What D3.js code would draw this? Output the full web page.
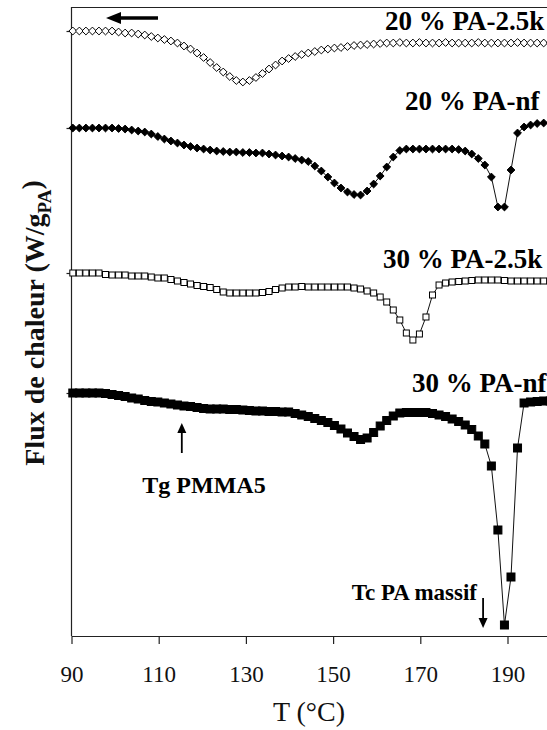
<!DOCTYPE html>
<html><head><meta charset="utf-8">
<script src="https://cdn.jsdelivr.net/npm/d3@7"></script>
<style>
html,body{margin:0;padding:0;background:#fff;}
svg{display:block;font-family:"Liberation Serif","Times New Roman",serif;}
</style></head><body>
<svg id="chart" width="547" height="730"></svg>
<script>
// Temperature (°C) of each recorded point
const temperatures = [
  90.3,91.8,93.3,94.8,96.3,97.8,99.3,100.8,102.3,103.8,
  105.3,106.8,108.3,109.8,111.3,112.8,114.3,115.8,117.3,118.8,
  120.3,121.8,123.3,124.8,126.3,127.8,129.3,130.8,132.3,133.8,
  135.3,136.8,138.3,139.8,141.3,142.8,144.3,145.8,147.3,148.8,
  150.3,151.8,153.3,154.8,156.3,157.8,159.3,160.8,162.3,163.8,
  165.3,166.8,168.3,169.8,171.3,172.8,174.3,175.8,177.3,178.8,
  180.3,181.8,183.3,184.8,186.3,187.8,189.3,190.8,192.3,193.8,
  195.3,196.8,198.3,199.8
];
// Heat flux (shifted curves, arbitrary offset units)
const pa25k20 = [
  12.10,12.10,12.10,12.10,12.10,12.10,12.10,12.08,12.06,12.06,
  12.04,12.02,11.99,11.96,11.93,11.90,11.86,11.80,11.74,11.66,
  11.57,11.47,11.37,11.28,11.19,11.11,11.08,11.11,11.17,11.25,
  11.34,11.42,11.50,11.55,11.59,11.63,11.66,11.69,11.72,11.74,
  11.76,11.77,11.79,11.81,11.82,11.83,11.84,11.85,11.86,11.86,
  11.87,11.86,11.86,11.87,11.86,11.86,11.86,11.87,11.86,11.86,
  11.86,11.86,11.87,11.86,11.86,11.86,11.86,11.86,11.87,11.86,
  11.86,11.86,11.86,11.86
];
const paNf20 = [
  10.16,10.16,10.16,10.16,10.16,10.16,10.16,10.15,10.14,10.12,
  10.10,10.08,10.04,9.99,9.94,9.90,9.86,9.82,9.79,9.76,
  9.74,9.72,9.70,9.69,9.68,9.68,9.67,9.67,9.66,9.66,
  9.64,9.62,9.60,9.58,9.55,9.52,9.49,9.40,9.30,9.18,
  9.06,8.96,8.88,8.83,8.82,8.90,9.04,9.20,9.38,9.58,
  9.71,9.74,9.74,9.74,9.74,9.74,9.74,9.74,9.74,9.73,
  9.70,9.64,9.55,9.42,9.18,8.58,8.58,9.32,10.06,10.18,
  10.22,10.25,10.26,10.27
];
const pa25k30 = [
  7.26,7.26,7.26,7.26,7.26,7.23,7.22,7.22,7.22,7.20,
  7.20,7.20,7.18,7.16,7.16,7.13,7.10,7.07,7.04,7.01,
  6.99,6.97,6.93,6.88,6.86,6.86,6.86,6.86,6.86,6.87,
  6.89,6.93,6.96,6.98,6.98,6.99,6.98,6.98,6.98,6.98,
  6.98,6.98,6.98,6.96,6.94,6.90,6.86,6.78,6.68,6.52,
  6.32,6.06,5.92,6.04,6.38,6.82,7.02,7.06,7.08,7.09,
  7.10,7.11,7.12,7.12,7.12,7.12,7.11,7.10,7.10,7.10,
  7.10,7.10,7.10,7.10
];
const paNf30 = [
  4.86,4.86,4.86,4.86,4.86,4.85,4.83,4.81,4.79,4.76,
  4.74,4.71,4.69,4.68,4.66,4.64,4.62,4.60,4.59,4.57,
  4.55,4.54,4.54,4.54,4.53,4.53,4.52,4.51,4.50,4.50,
  4.49,4.49,4.48,4.48,4.45,4.42,4.39,4.35,4.31,4.27,
  4.21,4.14,4.06,3.99,3.93,3.96,4.07,4.20,4.31,4.40,
  4.46,4.47,4.47,4.47,4.47,4.45,4.42,4.39,4.34,4.29,
  4.22,4.13,4.00,3.84,3.40,2.12,0.22,1.18,3.76,4.66,
  4.68,4.69,4.70,4.70
];
const seriesLabels = ["20 % PA-2.5k","20 % PA-nf","30 % PA-2.5k","30 % PA-nf"];
const xTickValues = [90,110,130,150,170,190];
const yTickValues = [4.86,7.26,10.16,12.10];
const xTitle = "T (°C)";
const annotations = [
  {text:"Tg PMMA5", t:115.3, top:4.26, bottom:3.66, dir:"up"},
  {text:"Tc PA massif", t:184.4, top:0.76, bottom:0.16, dir:"down"}
];

const svg = d3.select("#chart");
const X0 = 71.5, X1 = 551.1, Y0 = 636, Y1 = 7;
const x = d3.scaleLinear().domain([90,200]).range([X0,X1]);
const y = d3.scaleLinear().domain([0,12.58]).range([Y0,Y1]);

// frame
svg.append("line").attr("x1",X0).attr("x2",X1).attr("y1",Y1+0.5).attr("y2",Y1+0.5)
  .attr("stroke","#222").attr("stroke-width",1.2);
svg.append("line").attr("x1",X0).attr("x2",X0).attr("y1",Y1).attr("y2",Y0)
  .attr("stroke","#222").attr("stroke-width",1.2);

// axes
const xAxis = svg.append("g").attr("transform",`translate(0,${Y0})`)
  .call(d3.axisBottom(x).tickValues(xTickValues).tickSize(8).tickSizeOuter(0).tickPadding(22).tickFormat(d3.format("d")));
xAxis.select(".domain").attr("stroke","#222").attr("stroke-width",1.2);
xAxis.selectAll(".tick line").attr("stroke","#222").attr("stroke-width",1.2);
xAxis.selectAll(".tick text").attr("font-size",23).attr("font-family","Liberation Serif, serif").attr("fill","#111");

const yAxis = svg.append("g").attr("transform",`translate(${X0},0)`)
  .call(d3.axisLeft(y).tickValues(yTickValues).tickSize(5).tickSizeOuter(0).tickFormat(""));
yAxis.select(".domain").remove();
yAxis.selectAll(".tick line").attr("stroke","#222").attr("stroke-width",1.2);

// titles
svg.append("text").attr("x",309).attr("y",721).attr("text-anchor","middle")
  .attr("font-size",28).attr("fill","#111").text(xTitle);
const yt = svg.append("text").attr("transform","translate(44,323) rotate(-90)")
  .attr("text-anchor","middle").attr("font-size",28).attr("font-weight","bold").attr("fill","#111");
yt.append("tspan").text("Flux de chaleur (W/g");
yt.append("tspan").attr("font-size",19).attr("dy","0.35em").text("PA");
yt.append("tspan").attr("dy","-0.35em").text(")");

// curves
const plot = svg.append("g");
const line = d3.line().x(d=>x(d.t)).y(d=>y(d.v));
const series = [
  {values:pa25k20, shape:"diamond", fill:"#fff", size:3.9},
  {values:paNf20, shape:"diamond", fill:"#000", size:3.9},
  {values:pa25k30, shape:"square", fill:"#fff", size:6},
  {values:paNf30, shape:"square", fill:"#000", size:8}
];
series.forEach(s=>{
  const pts = temperatures.map((t,i)=>({t:t, v:s.values[i]}));
  plot.append("path").attr("d",line(pts)).attr("fill","none").attr("stroke","#111").attr("stroke-width",1);
  const g = plot.append("g");
  if (s.shape==="diamond") {
    const r = s.size;
    g.selectAll("path").data(pts).join("path")
      .attr("d",`M0,${-r}L${r},0L0,${r}L${-r},0Z`)
      .attr("transform",d=>`translate(${x(d.t)},${y(d.v)})`)
      .attr("fill",s.fill).attr("stroke","#000").attr("stroke-width",1);
  } else {
    const w = s.size;
    g.selectAll("rect").data(pts).join("rect")
      .attr("x",d=>x(d.t)-w/2).attr("y",d=>y(d.v)-w/2).attr("width",w).attr("height",w)
      .attr("fill",s.fill).attr("stroke","#000").attr("stroke-width",1);
  }
});

// series labels
const labelPos = [[385,30],[405,110],[383,268],[412,392]];
seriesLabels.forEach((s,i)=>{
  svg.append("text").attr("x",labelPos[i][0]).attr("y",labelPos[i][1])
    .attr("font-size",27).attr("font-weight","bold").attr("fill","#000").text(s);
});

// scan direction arrow
svg.append("line").attr("x1",158).attr("x2",116).attr("y1",18).attr("y2",18)
  .attr("stroke","#000").attr("stroke-width",3.5);
svg.append("path").attr("d","M106,18L121,12L121,24Z").attr("fill","#000");

// annotations
annotations.forEach(a=>{
  const ax = x(a.t), yt0 = y(a.top), yb = y(a.bottom);
  if (a.dir==="up") {
    svg.append("line").attr("x1",ax).attr("x2",ax).attr("y1",yb).attr("y2",yt0+8).attr("stroke","#000").attr("stroke-width",1.8);
    svg.append("path").attr("d",`M${ax},${yt0}L${ax-4.5},${yt0+10}L${ax+4.5},${yt0+10}Z`).attr("fill","#000");
    svg.append("text").attr("x",204).attr("y",493).attr("text-anchor","middle")
      .attr("font-size",24).attr("font-weight","bold").text(a.text);
  } else {
    svg.append("line").attr("x1",ax).attr("x2",ax).attr("y1",yt0).attr("y2",yb-8).attr("stroke","#000").attr("stroke-width",1.8);
    svg.append("path").attr("d",`M${ax},${yb}L${ax-4.5},${yb-10}L${ax+4.5},${yb-10}Z`).attr("fill","#000");
    svg.append("text").attr("x",477).attr("y",600).attr("text-anchor","end")
      .attr("font-size",23).attr("font-weight","bold").text(a.text);
  }
});
</script>
</body></html>
